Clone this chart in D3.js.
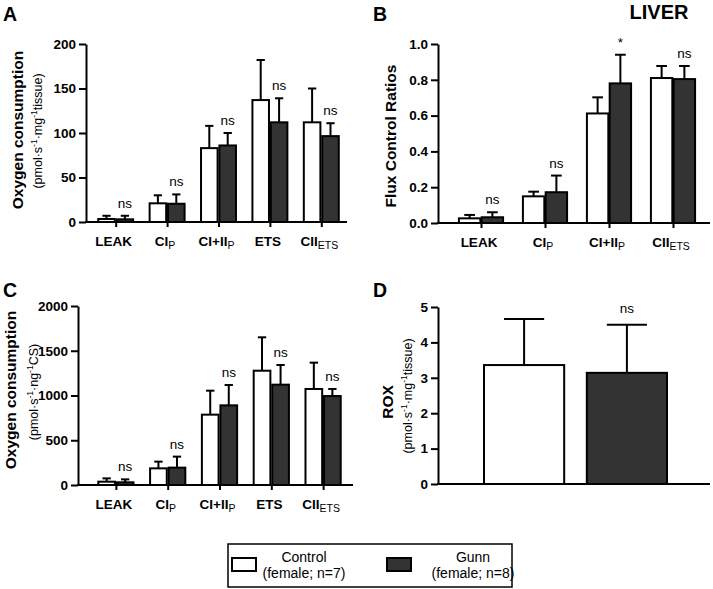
<!DOCTYPE html>
<html><head><meta charset="utf-8">
<script src="https://cdn.jsdelivr.net/npm/d3@7"></script>
<style>
body{margin:0;background:#fff;}
svg{display:block;font-family:"Liberation Sans",Arial,sans-serif;}
</style></head>
<body>
<svg id="chart" width="713" height="589"></svg>
<script>
// ---------- data ----------
const groups = ["Control", "Gunn"];
const legendTitles = ["Control", "Gunn"];
const legendSubs = ["(female; n=7)", "(female; n=8)"];

const catO2Main = ["LEAK", "CI", "CI+II", "ETS", "CII"];
const catO2Sub  = ["", "P", "P", "", "ETS"];
const catFcrMain = ["LEAK", "CI", "CI+II", "CII"];
const catFcrSub  = ["", "P", "P", "ETS"];

// Panel A: O2 consumption per mg tissue (mean, SD)
const aControl = [3.4, 21, 83, 137, 112];
const aControlSd = [3.6, 9, 25, 45, 38];
const aGunn = [3, 20.5, 86, 112, 96.5];
const aGunnSd = [4, 10.5, 14, 27, 14.5];
const aSig = ["ns", "ns", "ns", "ns", "ns"];
const aTicks = [0, 50, 100, 150, 200];

// Panel B: flux control ratios
const bControl = [0.026, 0.149, 0.612, 0.81];
const bControlSd = [0.019, 0.026, 0.09, 0.067];
const bGunn = [0.032, 0.172, 0.78, 0.804];
const bGunnSd = [0.028, 0.093, 0.16, 0.073];
const bSig = ["ns", "ns", "*", "ns"];
const bTicks = [0, 0.2, 0.4, 0.6, 0.8, 1.0];

// Panel C: O2 consumption per ng CS
const cControl = [37, 186, 786, 1277, 1073];
const cControlSd = [37, 75, 268, 373, 294];
const cGunn = [30, 194, 890, 1121, 994];
const cGunnSd = [33, 123, 227, 220, 79];
const cSig = ["ns", "ns", "ns", "ns", "ns"];
const cTicks = [0, 500, 1000, 1500, 2000];

// Panel D: ROX
const dValues = [3.36, 3.14];
const dSd = [1.30, 1.36];
const dSig = ["", "ns"];
const dTicks = [0, 1, 2, 3, 4, 5];

// ---------- drawing ----------
const svg = d3.select("#chart");
const fills = {Control: "#ffffff", Gunn: "#333333"};

function yAxisTitle(g, x, yc, main) {
  g.append("text")
    .attr("x", x).attr("y", yc)
    .attr("transform", `rotate(-90 ${x} ${yc})`)
    .attr("text-anchor", "middle")
    .attr("font-weight", "bold").attr("font-size", 15.5)
    .text(main);
}
function ySubTitle(g, x, yc, parts) {
  const t = g.append("text")
    .attr("x", x).attr("y", yc)
    .attr("transform", `rotate(-90 ${x} ${yc})`)
    .attr("text-anchor", "middle")
    .attr("font-size", 12.5);
  parts.forEach(p => {
    const ts = t.append("tspan").text(p.t);
    if (p.sup) ts.attr("font-size", 8.5).attr("baseline-shift", "super");
  });
}

function styleYAxis(ya) {
  ya.select(".domain").attr("stroke-width", 2);
  ya.selectAll(".tick line").attr("stroke-width", 2);
  ya.selectAll(".tick text").attr("font-size", 13.5).attr("font-weight", "bold")
    .attr("font-family", "Liberation Sans, Arial, sans-serif").attr("fill", "#000");
}

function drawPanel(cfg) {
  const g = svg.append("g");
  const y = d3.scaleLinear().domain(cfg.domain).range([cfg.yBot, cfg.yTop]);
  const xOuter = d3.scaleBand().domain(cfg.cats.map((d, i) => i))
    .range(cfg.bandRange).paddingInner(cfg.pi).paddingOuter(cfg.pi / 2);
  const xInner = d3.scaleBand().domain(groups).range([0, xOuter.bandwidth()]).paddingInner(cfg.gap);

  const ya = g.append("g").attr("transform", `translate(${cfg.x0},0)`)
    .call(d3.axisLeft(y).tickValues(cfg.ticks).tickSize(7).tickSizeOuter(0).tickPadding(3)
      .tickFormat(cfg.fmt));
  styleYAxis(ya);

  cfg.series.forEach((s, si) => {
    const grp = groups[si];
    cfg.cats.forEach((c, i) => {
      const bx = xOuter(i) + xInner(grp);
      const bw = xInner.bandwidth();
      const v = s.v[i], sd = s.sd[i];
      g.append("line").attr("x1", bx + bw / 2).attr("x2", bx + bw / 2)
        .attr("y1", y(v)).attr("y2", y(v + sd)).attr("stroke", "#000").attr("stroke-width", 2);
      g.append("line").attr("x1", bx + bw / 4).attr("x2", bx + bw * 3 / 4)
        .attr("y1", y(v + sd)).attr("y2", y(v + sd)).attr("stroke", "#000").attr("stroke-width", 2);
      g.append("rect").attr("x", bx).attr("width", bw)
        .attr("y", y(v)).attr("height", y(0) - y(v))
        .attr("fill", fills[grp]).attr("stroke", "#000").attr("stroke-width", 2);
      if (si === 1 && cfg.sig[i]) {
        g.append("text").attr("x", bx + bw / 2).attr("y", y(v + sd) - 8)
          .attr("text-anchor", "middle").attr("font-size", 13.5).text(cfg.sig[i]);
      }
    });
  });

  g.append("line").attr("x1", cfg.x0 - 1).attr("x2", cfg.x1).attr("y1", cfg.yBot).attr("y2", cfg.yBot)
    .attr("stroke", "#000").attr("stroke-width", 2);
  const xa = g.append("g").attr("transform", `translate(0,${cfg.yBot})`)
    .call(d3.axisBottom(d3.scalePoint().domain(cfg.cats.map((d, i) => i))
      .range([xOuter(0) + xOuter.bandwidth() / 2, xOuter(cfg.cats.length - 1) + xOuter.bandwidth() / 2]))
      .tickSize(5).tickFormat(""));
  xa.select(".domain").remove();
  xa.selectAll(".tick line").attr("stroke-width", 2);

  cfg.cats.forEach((c, i) => {
    const cx = xOuter(i) + xOuter.bandwidth() / 2;
    const t = g.append("text")
      .attr("x", cx - 2).attr("y", cfg.yBot + 24)
      .attr("text-anchor", "middle").attr("font-size", 13.5).attr("font-weight", "bold");
    t.append("tspan").text(c);
    if (cfg.subs[i]) t.append("tspan").attr("font-weight", "normal").attr("font-size", 10.5)
      .attr("baseline-shift", "-3").text(cfg.subs[i]);
  });
  return g;
}

// Panel A
const gA = drawPanel({
  cats: catO2Main, subs: catO2Sub, domain: [0, 200], ticks: aTicks, fmt: d3.format("d"),
  x0: 86, x1: 347, yTop: 44, yBot: 222, bandRange: [90, 347], pi: 0.32, gap: 0.1,
  series: [{v: aControl, sd: aControlSd}, {v: aGunn, sd: aGunnSd}], sig: aSig
});
yAxisTitle(gA, 23, 130, "Oxygen consumption");
ySubTitle(gA, 42, 131, [{t: "(pmol·s"}, {t: "-1", sup: true}, {t: "·mg"}, {t: "-1", sup: true}, {t: "tissue)"}]);

// Panel B
const gB = drawPanel({
  cats: catFcrMain, subs: catFcrSub, domain: [0, 1], ticks: bTicks, fmt: d3.format(".1f"),
  x0: 438, x1: 710, yTop: 44, yBot: 223, bandRange: [449, 705], pi: 0.31, gap: 0.06,
  series: [{v: bControl, sd: bControlSd}, {v: bGunn, sd: bGunnSd}], sig: bSig
});
yAxisTitle(gB, 396, 136, "Flux Control Ratios");

// Panel C
const gC = drawPanel({
  cats: catO2Main, subs: catO2Sub, domain: [0, 2000], ticks: cTicks, fmt: d3.format("d"),
  x0: 78, x1: 353, yTop: 306, yBot: 485, bandRange: [90, 349], pi: 0.32, gap: 0.1,
  series: [{v: cControl, sd: cControlSd}, {v: cGunn, sd: cGunnSd}], sig: cSig
});
yAxisTitle(gC, 16, 390, "Oxygen consumption");
ySubTitle(gC, 38, 392, [{t: "(pmol·s"}, {t: "-1", sup: true}, {t: "·ng"}, {t: "-1", sup: true}, {t: "CS)"}]);

// Panel D
(function () {
  const g = svg.append("g");
  const y = d3.scaleLinear().domain([0, 5]).range([484, 307]);
  const x = d3.scaleBand().domain(groups).range([484, 667]).paddingInner(0.22);
  const ya = g.append("g").attr("transform", "translate(438,0)")
    .call(d3.axisLeft(y).tickValues(dTicks).tickSize(7).tickSizeOuter(0).tickPadding(3).tickFormat(d3.format("d")));
  styleYAxis(ya);
  groups.forEach((grp, i) => {
    const bx = x(grp), bw = x.bandwidth(), v = dValues[i], sd = dSd[i];
    g.append("line").attr("x1", bx + bw / 2).attr("x2", bx + bw / 2)
      .attr("y1", y(v)).attr("y2", y(v + sd)).attr("stroke", "#000").attr("stroke-width", 2);
    g.append("line").attr("x1", bx + bw / 4).attr("x2", bx + bw * 3 / 4)
      .attr("y1", y(v + sd)).attr("y2", y(v + sd)).attr("stroke", "#000").attr("stroke-width", 2);
    g.append("rect").attr("x", bx).attr("width", bw).attr("y", y(v)).attr("height", y(0) - y(v))
      .attr("fill", fills[grp]).attr("stroke", "#000").attr("stroke-width", 2);
    if (dSig[i]) g.append("text").attr("x", bx + bw / 2).attr("y", y(v + sd) - 12)
      .attr("text-anchor", "middle").attr("font-size", 13.5).text(dSig[i]);
  });
  g.append("line").attr("x1", 437).attr("x2", 710).attr("y1", 484).attr("y2", 484)
    .attr("stroke", "#000").attr("stroke-width", 2);
  yAxisTitle(g, 393, 402, "ROX");
  ySubTitle(g, 412, 396, [{t: "(pmol·s"}, {t: "-1", sup: true}, {t: "·mg"}, {t: "-1", sup: true}, {t: "tissue)"}]);
})();

// Panel letters & title
[["A", 3, 21], ["B", 373, 21], ["C", 3, 297], ["D", 373, 297]].forEach(d => {
  svg.append("text").attr("x", d[1]).attr("y", d[2]).attr("font-size", 19.5).attr("font-weight", "bold").text(d[0]);
});
svg.append("text").attr("x", 659).attr("y", 19).attr("text-anchor", "middle")
  .attr("font-size", 20).attr("font-weight", "bold").text("LIVER");

// Legend
const lg = svg.append("g");
lg.append("rect").attr("x", 228).attr("y", 544).attr("width", 284).attr("height", 43)
  .attr("fill", "none").attr("stroke", "#000").attr("stroke-width", 1.5);
const legX = [232, 387], legTextX = [304, 473];
groups.forEach((grp, i) => {
  lg.append("rect").attr("x", legX[i]).attr("y", 558).attr("width", 24).attr("height", 13)
    .attr("fill", fills[grp]).attr("stroke", "#000").attr("stroke-width", 2);
  lg.append("text").attr("x", legTextX[i]).attr("y", 562).attr("text-anchor", "middle")
    .attr("font-size", 14).text(legendTitles[i]);
  lg.append("text").attr("x", legTextX[i]).attr("y", 578).attr("text-anchor", "middle")
    .attr("font-size", 14).text(legendSubs[i]);
});
</script>
</body></html>
